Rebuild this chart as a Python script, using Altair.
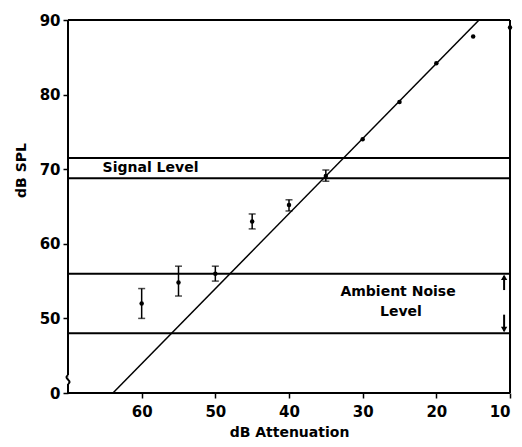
import altair as alt
import pandas as pd

# data
atten = [60, 55, 50, 45, 40, 35, 30, 25, 20, 15, 10]
spl = [52.0, 54.8, 56.0, 63.0, 65.2, 69.1, 74.0, 79.0, 84.2, 87.8, 89.0]
err_lo = [50.0, 53.0, 55.0, 62.0, 64.4, 68.4, None, None, None, None, None]
err_hi = [54.0, 57.0, 57.0, 64.0, 65.9, 69.9, None, None, None, None, None]

fit_x = [63.9, 14.2]
fit_y = [40.0, 90.0]

signal_levels = [71.5, 68.8]
noise_levels = [56.0, 48.0]

y_ticks = [40, 50, 60, 70, 80, 90]   # 40 is drawn as the broken-axis "0"
x_ticks = [60, 50, 40, 30, 20, 10]

FONT = "DejaVu Sans"

pts = pd.DataFrame({"a": atten, "s": spl, "lo": err_lo, "hi": err_hi})
errs = pts.dropna()
fit = pd.DataFrame({"a": fit_x, "s": fit_y})
hl = pd.DataFrame({"s": signal_levels + noise_levels})

xs = alt.Scale(domain=[70, 10], nice=False, zero=False)
ys = alt.Scale(domain=[40, 90], nice=False, zero=False)

X = alt.X("a:Q", scale=xs, title="dB  Attenuation",
          axis=alt.Axis(values=x_ticks, grid=False, tickSize=5, tickWidth=1.5,
                        domain=False, labelFontSize=15, labelFontWeight="bold",
                        labelFont=FONT, titleFont=FONT, titleFontSize=14,
                        titleFontWeight="bold", labelPadding=6, titlePadding=6,
                        tickColor="black", labelColor="black", titleColor="black"))
Y = alt.Y("s:Q", scale=ys, title="dB  SPL",
          axis=alt.Axis(values=y_ticks, grid=False, tickSize=5, tickWidth=1.5,
                        domain=False, labelFontSize=15, labelFontWeight="bold",
                        labelFont=FONT, titleFont=FONT, titleFontSize=14,
                        titleFontWeight="bold", labelPadding=3,
                        labelExpr="datum.value == 40 ? '0' : datum.label",
                        titleY=150, titleX=-40,
                        tickColor="black", labelColor="black", titleColor="black"))

# frame drawn by hand so the left side can carry an axis break
frame_h = pd.DataFrame({"s": [40, 90]})
frame_v = pd.DataFrame({"a": [10, 70, 70], "s1": [40, 40, 42.4], "s2": [90, 41.2, 90]})
fr_h = alt.Chart(frame_h).mark_rule(color="black", strokeWidth=2).encode(y=alt.Y("s:Q", scale=ys))
fr_v = alt.Chart(frame_v).mark_rule(color="black", strokeWidth=2).encode(
    x=alt.X("a:Q", scale=xs), y=alt.Y("s1:Q", scale=ys), y2="s2:Q")
squig = pd.DataFrame({"a": [70.0, 69.6, 70.4, 70.0], "s": [41.2, 41.5, 42.1, 42.4], "o": [0, 1, 2, 3]})
brk = alt.Chart(squig).mark_line(color="black", strokeWidth=2, interpolate="basis").encode(
    x=alt.X("a:Q", scale=xs), y=alt.Y("s:Q", scale=ys), order="o:Q")

hlines = alt.Chart(hl).mark_rule(color="black", strokeWidth=2).encode(y=alt.Y("s:Q", scale=ys))

fitline = alt.Chart(fit).mark_line(color="black", strokeWidth=1.5).encode(x=X, y=Y)

bars = alt.Chart(errs).mark_rule(color="black", strokeWidth=1.5).encode(
    x=alt.X("a:Q", scale=xs), y=alt.Y("lo:Q", scale=ys), y2="hi:Q")
cap_lo = alt.Chart(errs).mark_tick(color="black", size=7, thickness=1.5, orient="horizontal").encode(
    x=alt.X("a:Q", scale=xs), y=alt.Y("lo:Q", scale=ys))
cap_hi = alt.Chart(errs).mark_tick(color="black", size=7, thickness=1.5, orient="horizontal").encode(
    x=alt.X("a:Q", scale=xs), y=alt.Y("hi:Q", scale=ys))

dots = alt.Chart(pts).mark_circle(color="black", size=20, opacity=1).encode(
    x=alt.X("a:Q", scale=xs), y=alt.Y("s:Q", scale=ys))

labels = pd.DataFrame({
    "a": [58.8, 25.2, 24.8],
    "s": [70.1, 53.6, 50.8],
    "t": ["Signal  Level", "Ambient   Noise", "Level"],
})
text = alt.Chart(labels).mark_text(font=FONT, fontSize=14, fontWeight="bold", color="black").encode(
    x=alt.X("a:Q", scale=xs), y=alt.Y("s:Q", scale=ys), text="t:N")

# arrows marking the ambient noise band
arr = pd.DataFrame({"a": [10.8, 10.8], "s1": [53.8, 50.5], "s2": [55.7, 48.3]})
arrow_shafts = alt.Chart(arr).mark_rule(color="black", strokeWidth=2).encode(
    x=alt.X("a:Q", scale=xs), y=alt.Y("s1:Q", scale=ys), y2="s2:Q")
heads = pd.DataFrame({"a": [10.8, 10.8], "s": [55.5, 48.5], "sh": ["triangle-up", "triangle-down"]})
arrow_heads = alt.Chart(heads).mark_point(color="black", filled=True, size=40, opacity=1).encode(
    x=alt.X("a:Q", scale=xs), y=alt.Y("s:Q", scale=ys),
    shape=alt.Shape("sh:N", scale=None))

chart = alt.layer(fr_h, fr_v, brk, hlines, fitline, bars, cap_lo, cap_hi, dots, text,
                  arrow_shafts, arrow_heads).properties(
    width=442, height=373,
    autosize=alt.AutoSizeParams(type="none"),
    padding={"left": 60, "top": 12, "right": 4, "bottom": 52},
).configure_view(stroke=None).configure(background="white")

chart.save("out.html", embed_options={"renderer": "svg", "actions": False})
